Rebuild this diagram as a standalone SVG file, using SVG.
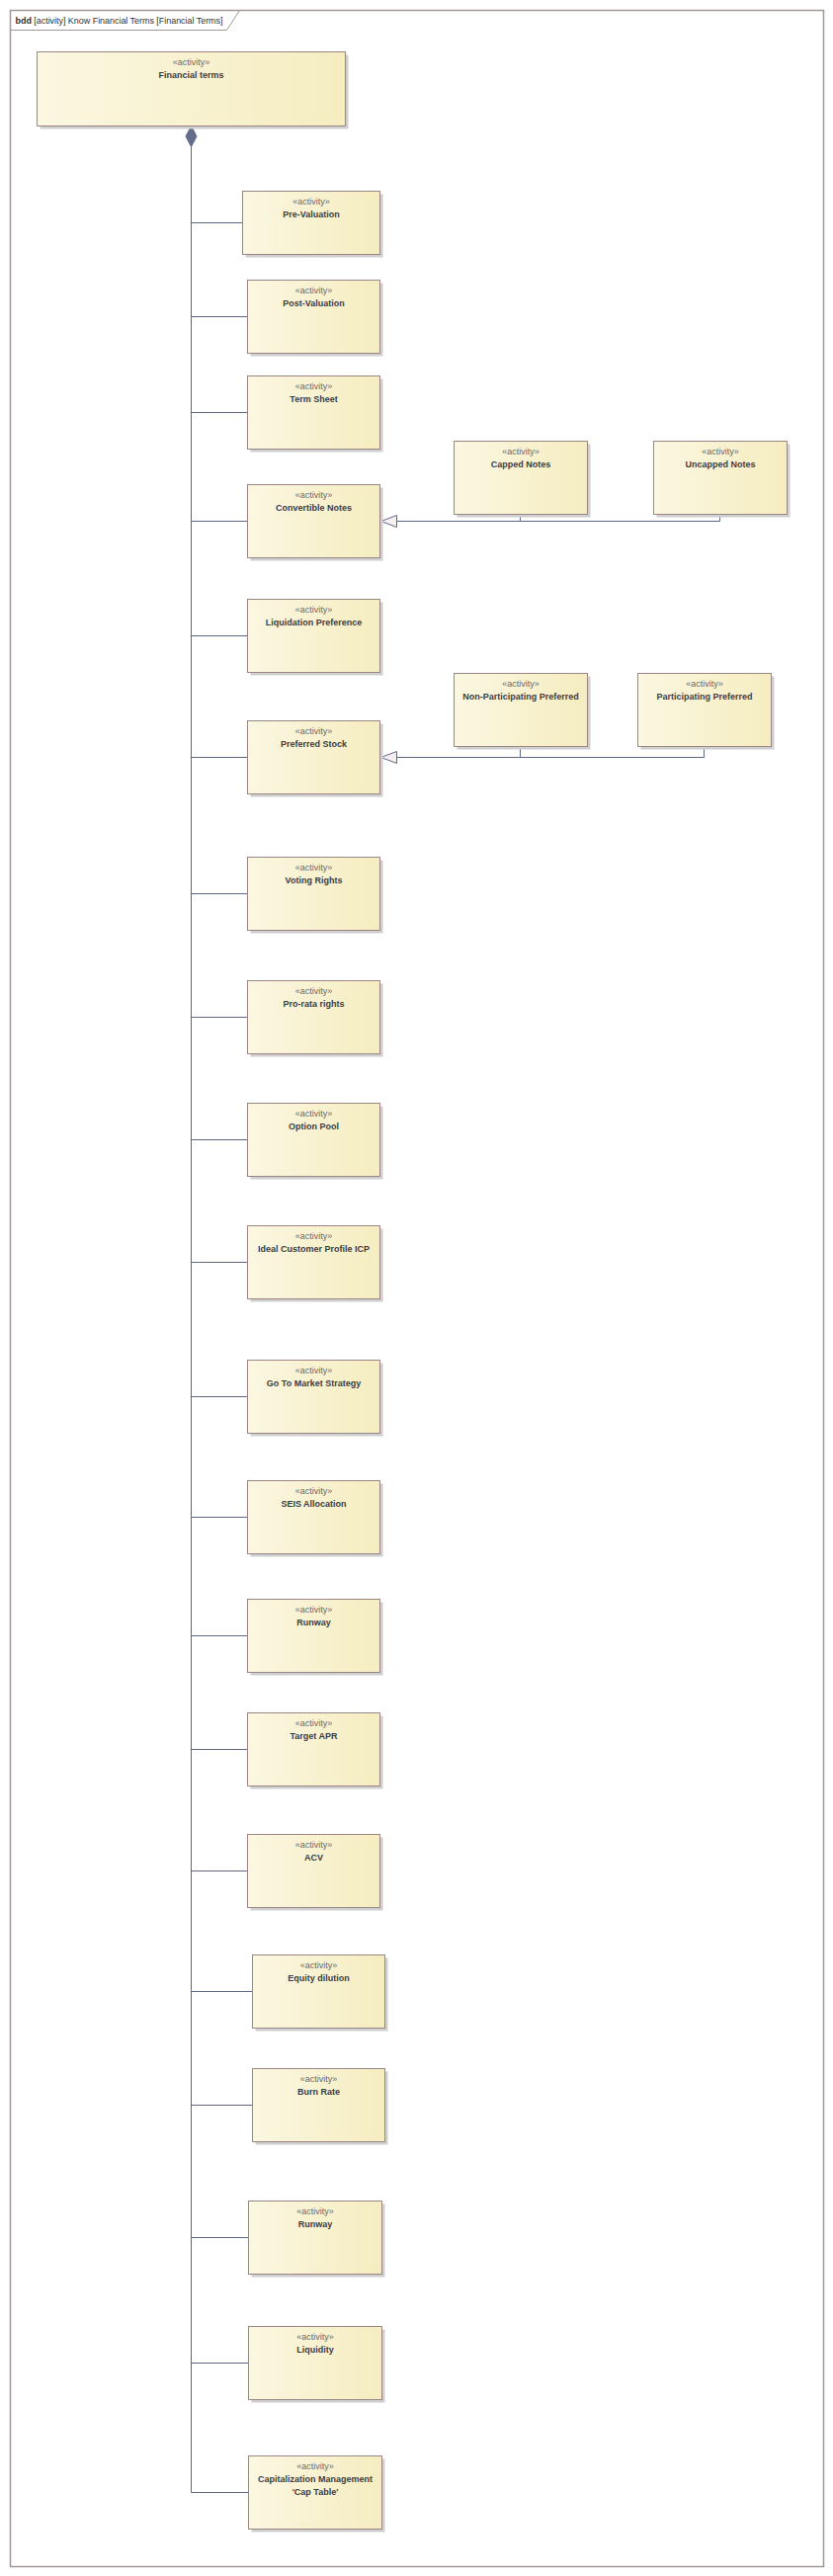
<svg xmlns="http://www.w3.org/2000/svg" width="843" height="2607" viewBox="0 0 843 2607">
<defs>
<linearGradient id="fill" x1="0" y1="0" x2="1" y2="0">
<stop offset="0" stop-color="#FBF7E1"/>
<stop offset="1" stop-color="#F5EDC0"/>
</linearGradient>
<style>
.frame{fill:#FFFFFF;stroke:#A39797;stroke-width:1.5}
.tab{fill:none;stroke:#A39797;stroke-width:1}
.lbl{font-family:"Liberation Sans",Arial,sans-serif;font-size:9px;fill:#333333}
.sh{fill:#CFCFCF}
.box{fill:url(#fill);stroke:#9C8585;stroke-width:1}
.st{font-family:"Liberation Sans",Arial,sans-serif;font-size:9px;fill:#6A6A6A;text-anchor:middle}
.nm{font-family:"Liberation Sans",Arial,sans-serif;font-size:9px;font-weight:bold;fill:#3C3C44;text-anchor:middle}
.cn{fill:none;stroke:#5E6886;stroke-width:1}
.tri{fill:#F6EFEF;stroke:#5E6886;stroke-width:1}
.dia{fill:#646E8B;stroke:#5E6886;stroke-width:1}
</style>
</defs>
<rect width="843" height="2607" fill="#FFFFFF"/>
<g transform="translate(0.5,0.5)">
<g id="frame">
<rect class="frame" x="10" y="10" width="823" height="2587"/>
<path class="tab" d="M10,30 H229 L242,10"/>
<text class="lbl" x="15" y="23" textLength="210" lengthAdjust="spacing"><tspan font-weight="bold">bdd</tspan> [activity] Know Financial Terms [Financial Terms]</text>
</g>
<g id="connectors">
<path class="cn" d="M193,148 V2522"/>
<path class="cn" d="M193,225 H245 M193,320 H250 M193,417 H250 M193,527 H250 M193,643 H250 M193,766 H250 M193,904 H250 M193,1029 H250 M193,1153 H250 M193,1277 H250 M193,1413 H250 M193,1535 H250 M193,1655 H250 M193,1770 H250 M193,1893 H250 M193,2015 H255 M193,2130 H255 M193,2264 H251 M193,2391 H251 M193,2522 H251"/>
<polygon class="dia" points="193,127 198.5,137.5 193,148 187.5,137.5"/>
<path class="cn" d="M526,520 V527 H401 M728,520 V527 H526"/>
<polygon class="tri" points="385,527 401,521 401,533"/>
<path class="cn" d="M526,755 V766 H401 M712,755 V766 H526"/>
<polygon class="tri" points="385,766 401,760 401,772"/>
</g>
<g id="financial-terms"><rect class="sh" x="40" y="55" width="312" height="75"/><rect class="box" x="37" y="52" width="312" height="75"/><text class="st" x="193" y="65">«activity»</text><text class="nm" x="193" y="78">Financial terms</text></g>
<g id="pre-valuation"><rect class="sh" x="248" y="196" width="139" height="64"/><rect class="box" x="245" y="193" width="139" height="64"/><text class="st" x="314.5" y="206">«activity»</text><text class="nm" x="314.5" y="219">Pre-Valuation</text></g>
<g id="post-valuation"><rect class="sh" x="253" y="286" width="134" height="74"/><rect class="box" x="250" y="283" width="134" height="74"/><text class="st" x="317" y="296">«activity»</text><text class="nm" x="317" y="309">Post-Valuation</text></g>
<g id="term-sheet"><rect class="sh" x="253" y="383" width="134" height="74"/><rect class="box" x="250" y="380" width="134" height="74"/><text class="st" x="317" y="393">«activity»</text><text class="nm" x="317" y="406">Term Sheet</text></g>
<g id="convertible-notes"><rect class="sh" x="253" y="493" width="134" height="74"/><rect class="box" x="250" y="490" width="134" height="74"/><text class="st" x="317" y="503">«activity»</text><text class="nm" x="317" y="516">Convertible Notes</text></g>
<g id="capped-notes"><rect class="sh" x="462" y="449" width="135" height="74"/><rect class="box" x="459" y="446" width="135" height="74"/><text class="st" x="526.5" y="459">«activity»</text><text class="nm" x="526.5" y="472">Capped Notes</text></g>
<g id="uncapped-notes"><rect class="sh" x="664" y="449" width="135" height="74"/><rect class="box" x="661" y="446" width="135" height="74"/><text class="st" x="728.5" y="459">«activity»</text><text class="nm" x="728.5" y="472">Uncapped Notes</text></g>
<g id="liquidation-preference"><rect class="sh" x="253" y="609" width="134" height="74"/><rect class="box" x="250" y="606" width="134" height="74"/><text class="st" x="317" y="619">«activity»</text><text class="nm" x="317" y="632">Liquidation Preference</text></g>
<g id="preferred-stock"><rect class="sh" x="253" y="732" width="134" height="74"/><rect class="box" x="250" y="729" width="134" height="74"/><text class="st" x="317" y="742">«activity»</text><text class="nm" x="317" y="755">Preferred Stock</text></g>
<g id="non-participating-preferred"><rect class="sh" x="462" y="684" width="135" height="74"/><rect class="box" x="459" y="681" width="135" height="74"/><text class="st" x="526.5" y="694">«activity»</text><text class="nm" x="526.5" y="707">Non-Participating Preferred</text></g>
<g id="participating-preferred"><rect class="sh" x="648" y="684" width="135" height="74"/><rect class="box" x="645" y="681" width="135" height="74"/><text class="st" x="712.5" y="694">«activity»</text><text class="nm" x="712.5" y="707">Participating Preferred</text></g>
<g id="voting-rights"><rect class="sh" x="253" y="870" width="134" height="74"/><rect class="box" x="250" y="867" width="134" height="74"/><text class="st" x="317" y="880">«activity»</text><text class="nm" x="317" y="893">Voting Rights</text></g>
<g id="pro-rata-rights"><rect class="sh" x="253" y="995" width="134" height="74"/><rect class="box" x="250" y="992" width="134" height="74"/><text class="st" x="317" y="1005">«activity»</text><text class="nm" x="317" y="1018">Pro-rata rights</text></g>
<g id="option-pool"><rect class="sh" x="253" y="1119" width="134" height="74"/><rect class="box" x="250" y="1116" width="134" height="74"/><text class="st" x="317" y="1129">«activity»</text><text class="nm" x="317" y="1142">Option Pool</text></g>
<g id="ideal-customer-profile"><rect class="sh" x="253" y="1243" width="134" height="74"/><rect class="box" x="250" y="1240" width="134" height="74"/><text class="st" x="317" y="1253">«activity»</text><text class="nm" x="317" y="1266">Ideal Customer Profile ICP</text></g>
<g id="go-to-market"><rect class="sh" x="253" y="1379" width="134" height="74"/><rect class="box" x="250" y="1376" width="134" height="74"/><text class="st" x="317" y="1389">«activity»</text><text class="nm" x="317" y="1402">Go To Market Strategy</text></g>
<g id="seis-allocation"><rect class="sh" x="253" y="1501" width="134" height="74"/><rect class="box" x="250" y="1498" width="134" height="74"/><text class="st" x="317" y="1511">«activity»</text><text class="nm" x="317" y="1524">SEIS Allocation</text></g>
<g id="runway-1"><rect class="sh" x="253" y="1621" width="134" height="74"/><rect class="box" x="250" y="1618" width="134" height="74"/><text class="st" x="317" y="1631">«activity»</text><text class="nm" x="317" y="1644">Runway</text></g>
<g id="target-apr"><rect class="sh" x="253" y="1736" width="134" height="74"/><rect class="box" x="250" y="1733" width="134" height="74"/><text class="st" x="317" y="1746">«activity»</text><text class="nm" x="317" y="1759">Target APR</text></g>
<g id="acv"><rect class="sh" x="253" y="1859" width="134" height="74"/><rect class="box" x="250" y="1856" width="134" height="74"/><text class="st" x="317" y="1869">«activity»</text><text class="nm" x="317" y="1882">ACV</text></g>
<g id="equity-dilution"><rect class="sh" x="258" y="1981" width="134" height="74"/><rect class="box" x="255" y="1978" width="134" height="74"/><text class="st" x="322" y="1991">«activity»</text><text class="nm" x="322" y="2004">Equity dilution</text></g>
<g id="burn-rate"><rect class="sh" x="258" y="2096" width="134" height="74"/><rect class="box" x="255" y="2093" width="134" height="74"/><text class="st" x="322" y="2106">«activity»</text><text class="nm" x="322" y="2119">Burn Rate</text></g>
<g id="runway-2"><rect class="sh" x="254" y="2230" width="135" height="74"/><rect class="box" x="251" y="2227" width="135" height="74"/><text class="st" x="318.5" y="2240">«activity»</text><text class="nm" x="318.5" y="2253">Runway</text></g>
<g id="liquidity"><rect class="sh" x="254" y="2357" width="135" height="74"/><rect class="box" x="251" y="2354" width="135" height="74"/><text class="st" x="318.5" y="2367">«activity»</text><text class="nm" x="318.5" y="2380">Liquidity</text></g>
<g id="cap-table"><rect class="sh" x="254" y="2488" width="135" height="74"/><rect class="box" x="251" y="2485" width="135" height="74"/><text class="st" x="318.5" y="2498">«activity»</text><text class="nm" x="318.5" y="2511">Capitalization Management</text><text class="nm" x="318.5" y="2524">'Cap Table'</text></g>
</g>
</svg>
